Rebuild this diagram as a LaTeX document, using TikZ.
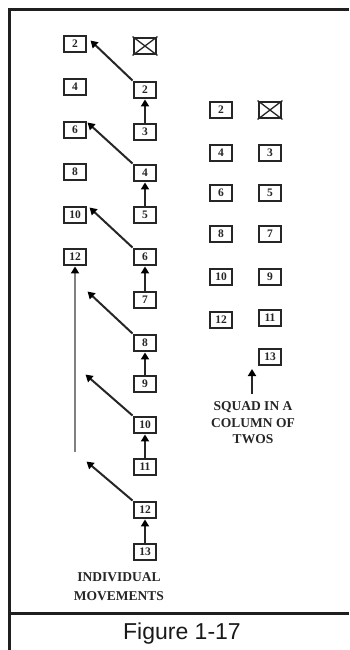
\documentclass[tikz,border=0pt]{standalone}
\usepackage{fontspec}
\setmainfont{Liberation Serif}
\newfontfamily\capfont{Liberation Sans}
\usetikzlibrary{arrows.meta,calc}
\begin{document}
\begin{tikzpicture}[x=1pt,y=-1pt,
  sbox/.style={draw=black!85, line width=2.4pt, minimum width=22.5pt, minimum height=16.5pt, inner sep=0pt, font=\fontsize{11.5}{12}\selectfont\bfseries, text=black!85, fill=white},
  mv/.style={draw=black!85, line width=2pt, -{Triangle[width=8pt,length=7pt,color=black]}},
  gmv/.style={draw=black!50, line width=2pt, -{Triangle[width=8pt,length=7pt,color=black]}},
  xline/.style={draw=black!85, line width=1.3pt},
  frame/.style={draw=black!88, line width=2.8pt},
  lbl/.style={font=\fontsize{13.5}{19}\selectfont\bfseries, align=center, text=black!85, inner sep=0pt}]
\useasboundingbox (0,0) rectangle (349,650);
% frame
\draw[frame] (9.7,650) -- (9.7,9.7) -- (349,9.7);
\draw[frame] (9.7,613.5) -- (349,613.5);
\node[font=\capfont\fontsize{23}{24}\selectfont, text=black!90] (cap) at (182,634) {Figure 1-17};
% individual movements: left column
\node[sbox] (L2) at (75,44) {2};
\node[sbox] (L4) at (75,87) {4};
\node[sbox] (L6) at (75,130) {6};
\node[sbox] (L8) at (75,172) {8};
\node[sbox] (L10) at (75,215) {10};
\node[sbox] (L12) at (75,257) {12};
% right column
\node[sbox] (RX) at (145,46) {};
\draw[xline] (RX.north west) -- (RX.south east) (RX.north east) -- (RX.south west);
\node[sbox] (R2) at (145,90) {2};
\node[sbox] (R3) at (145,132) {3};
\node[sbox] (R4) at (145,173) {4};
\node[sbox] (R5) at (145,215) {5};
\node[sbox] (R6) at (145,257) {6};
\node[sbox] (R7) at (145,300) {7};
\node[sbox] (R8) at (145,343) {8};
\node[sbox] (R9) at (145,384) {9};
\node[sbox] (R10) at (145,425) {10};
\node[sbox] (R11) at (145,467) {11};
\node[sbox] (R12) at (145,510) {12};
\node[sbox] (R13) at (145,552) {13};
% diagonal moves
\coordinate (t1) at ($(R2.north west)+(-42,-40)$);
\coordinate (t2) at ($(R4.north west)+(-45,-41)$);
\coordinate (t3) at ($(R6.north west)+(-43,-40)$);
\coordinate (t4) at ($(R8.north west)+(-45,-42)$);
\coordinate (t5) at ($(R10.north west)+(-47,-41)$);
\coordinate (t6) at ($(R12.north west)+(-46,-39)$);
\draw[mv] (R2.north west) -- (t1);
\draw[mv] (R4.north west) -- (t2);
\draw[mv] (R6.north west) -- (t3);
\draw[mv] (R8.north west) -- (t4);
\draw[mv] (R10.north west) -- (t5);
\draw[mv] (R12.north west) -- (t6);
% vertical moves
\draw[mv] (R3.north) -- (R2.south);
\draw[mv] (R5.north) -- (R4.south);
\draw[mv] (R7.north) -- (R6.south);
\draw[mv] (R9.north) -- (R8.south);
\draw[mv] (R11.north) -- (R10.south);
\draw[mv] (R13.north) -- (R12.south);
% long gray move
\coordinate (g0) at (75,452);
\draw[gmv] (g0) -- (L12.south);
\node[lbl] (indiv) at (119,587) {INDIVIDUAL\\MOVEMENTS};
% squad in a column of twos
\node[sbox] (A2) at (221,110) {2};
\node[sbox] (BX) at (270,110) {};
\draw[xline] (BX.north west) -- (BX.south east) (BX.north east) -- (BX.south west);
\node[sbox] (A4) at (221,153) {4};
\node[sbox] (B3) at (270,153) {3};
\node[sbox] (A6) at (221,193) {6};
\node[sbox] (B5) at (270,193) {5};
\node[sbox] (A8) at (221,234) {8};
\node[sbox] (B7) at (270,234) {7};
\node[sbox] (A10) at (221,277) {10};
\node[sbox] (B9) at (270,277) {9};
\node[sbox] (A12) at (221,320) {12};
\node[sbox] (B11) at (270,318) {11};
\node[sbox] (B13) at (270,357) {13};
\coordinate (q0) at (252,394);
\coordinate (q1) at (252,369);
\draw[mv] (q0) -- (q1);
\node[lbl, font=\fontsize{13.5}{16.5}\selectfont\bfseries] (squad) at (253,423) {SQUAD IN A\\COLUMN OF\\TWOS};
\end{tikzpicture}
\end{document}
